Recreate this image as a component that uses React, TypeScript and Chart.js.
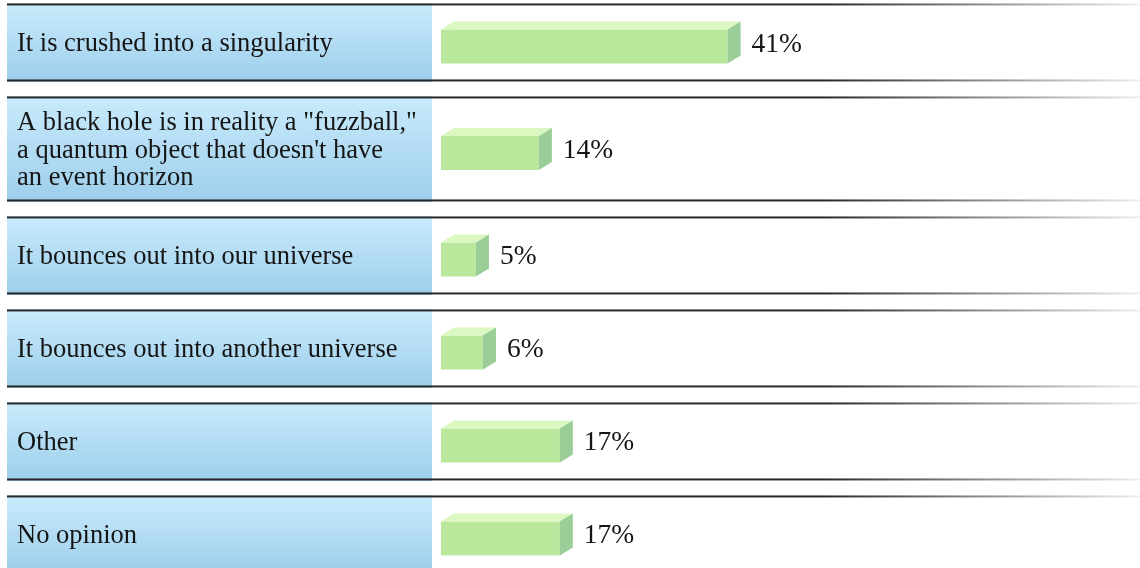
import React, { useEffect, useRef } from "react";
import { Chart, registerables } from "chart.js";

Chart.register(...registerables);

// ---- data ----
const categories: string[][] = [
  ["It is crushed into a singularity"],
  ['A black hole is in reality a "fuzzball,"', "a quantum object that doesn't have", "an event horizon"],
  ["It bounces out into our universe"],
  ["It bounces out into another universe"],
  ["Other"],
  ["No opinion"],
];
const values: number[] = [41, 14, 5, 6, 17, 17];
const valueLabels: string[] = values.map((v) => v + "%");
const xMax = 100;

// ---- layout helpers (derived from label line counts) ----
const W = 1140;
const H = 568;
const PITCH = 93; // px of a single-line row
const extraPerLine = 0.145;
const gapUnits = 14 / PITCH;
const rowSpans = categories.map((l) => 1 + (l.length - 1) * extraPerLine);
const rowStarts = rowSpans.map((_, i) => rowSpans.slice(0, i).reduce((a, b) => a + b, 0));
const yMin = -3 / PITCH;
const yMax = yMin + H / PITCH;
const FONT = '"Liberation Serif", "Times New Roman", serif';

const panelPlugin = {
  id: "panels",
  beforeDatasetsDraw(chart: any) {
    const ctx: CanvasRenderingContext2D = chart.ctx;
    const ys = chart.scales.y;
    const left = 7;
    const labelRight = 432;
    ctx.save();
    categories.forEach((lines, i) => {
      const top = Math.round(ys.getPixelForValue(rowStarts[i]));
      const bottom = Math.round(ys.getPixelForValue(rowStarts[i] + rowSpans[i] - gapUnits));
      // label panel gradient
      const g = ctx.createLinearGradient(0, top, 0, bottom);
      g.addColorStop(0, "#c9ebfc");
      g.addColorStop(1, "#9dceeb");
      ctx.fillStyle = g;
      ctx.fillRect(left, top, labelRight - left, bottom - top);
      // separator lines fading to the right
      const drawLine = (yy: number) => {
        const lg = ctx.createLinearGradient(left, 0, W, 0);
        lg.addColorStop(0, "rgba(40,40,40,1)");
        lg.addColorStop(0.72, "rgba(40,40,40,1)");
        lg.addColorStop(1, "rgba(40,40,40,0.08)");
        ctx.globalAlpha = 0.55;
        ctx.fillStyle = lg;
        ctx.fillRect(left, yy, W - left, 1);
        ctx.globalAlpha = 1;
        ctx.fillRect(left, yy + 1, W - left, 1);
        ctx.globalAlpha = 0.45;
        ctx.fillRect(left, yy + 2, W - left, 1);
        ctx.globalAlpha = 1;
      };
      drawLine(top);
      drawLine(bottom - 3);
      // label text
      const center = (top + bottom) / 2;
      const lh = 27.5;
      ctx.fillStyle = "#151515";
      ctx.font = `26.5px ${FONT}`;
      ctx.textAlign = "left";
      ctx.textBaseline = "alphabetic";
      lines.forEach((t, k) => {
        const cy = center + (k - (lines.length - 1) / 2) * lh;
        ctx.fillText(t, 17, cy + 8.5);
      });
    });
    ctx.restore();
  },
  afterDatasetsDraw(chart: any) {
    const ctx: CanvasRenderingContext2D = chart.ctx;
    const meta = chart.getDatasetMeta(0);
    const dx = 13;
    const dy = 8;
    ctx.save();
    meta.data.forEach((bar: any, i: number) => {
      const p = bar.getProps(["x", "y", "base", "height"], true);
      const x = p.x;
      const base = p.base;
      const h = p.height;
      const fy = p.y + dy / 2;
      const top = fy - h / 2;
      const bot = fy + h / 2;
      // front
      ctx.fillStyle = "#b9e79b";
      ctx.fillRect(base, top, x - base, h);
      // top face
      ctx.fillStyle = "#dbf8c1";
      ctx.beginPath();
      ctx.moveTo(base, top);
      ctx.lineTo(base + dx, top - dy);
      ctx.lineTo(x + dx, top - dy);
      ctx.lineTo(x, top);
      ctx.closePath();
      ctx.fill();
      // side face
      ctx.fillStyle = "#9acd98";
      ctx.beginPath();
      ctx.moveTo(x, top);
      ctx.lineTo(x + dx, top - dy);
      ctx.lineTo(x + dx, bot - dy);
      ctx.lineTo(x, bot);
      ctx.closePath();
      ctx.fill();
      // value label
      ctx.fillStyle = "#151515";
      ctx.font = `27.5px ${FONT}`;
      ctx.textAlign = "left";
      ctx.textBaseline = "alphabetic";
      ctx.fillText(valueLabels[i], x + dx + 11, p.y + 9);
    });
    ctx.restore();
  },
};

export default function App() {
  const ref = useRef<HTMLCanvasElement | null>(null);
  useEffect(() => {
    if (!ref.current) return;
    const data = values.map((v, i) => ({
      x: v,
      y: rowStarts[i] + (rowSpans[i] - gapUnits) / 2,
    }));
    const chart = new Chart(ref.current, {
      type: "bar",
      data: {
        datasets: [
          {
            data: data as any,
            backgroundColor: "rgba(0,0,0,0)",
            borderWidth: 0,
            barThickness: 34,
          },
        ],
      },
      options: {
        indexAxis: "y",
        responsive: false,
        animation: false,
        events: [],
        layout: { padding: { left: 441, right: 0, top: 0, bottom: 0 } },
        plugins: { legend: { display: false }, tooltip: { enabled: false } },
        scales: {
          x: { type: "linear", min: 0, max: xMax, display: false, offset: false, grace: 0 },
          y: { type: "linear", min: yMin, max: yMax, reverse: true, display: false, offset: false, grace: 0 },
        },
      },
      plugins: [panelPlugin],
    });
    return () => chart.destroy();
  }, []);
  return (
    <div style={{ position: "fixed", left: 0, top: 0, width: W, height: H, background: "#fff" }}>
      <canvas ref={ref} width={W} height={H} style={{ display: "block" }} />
    </div>
  );
}
